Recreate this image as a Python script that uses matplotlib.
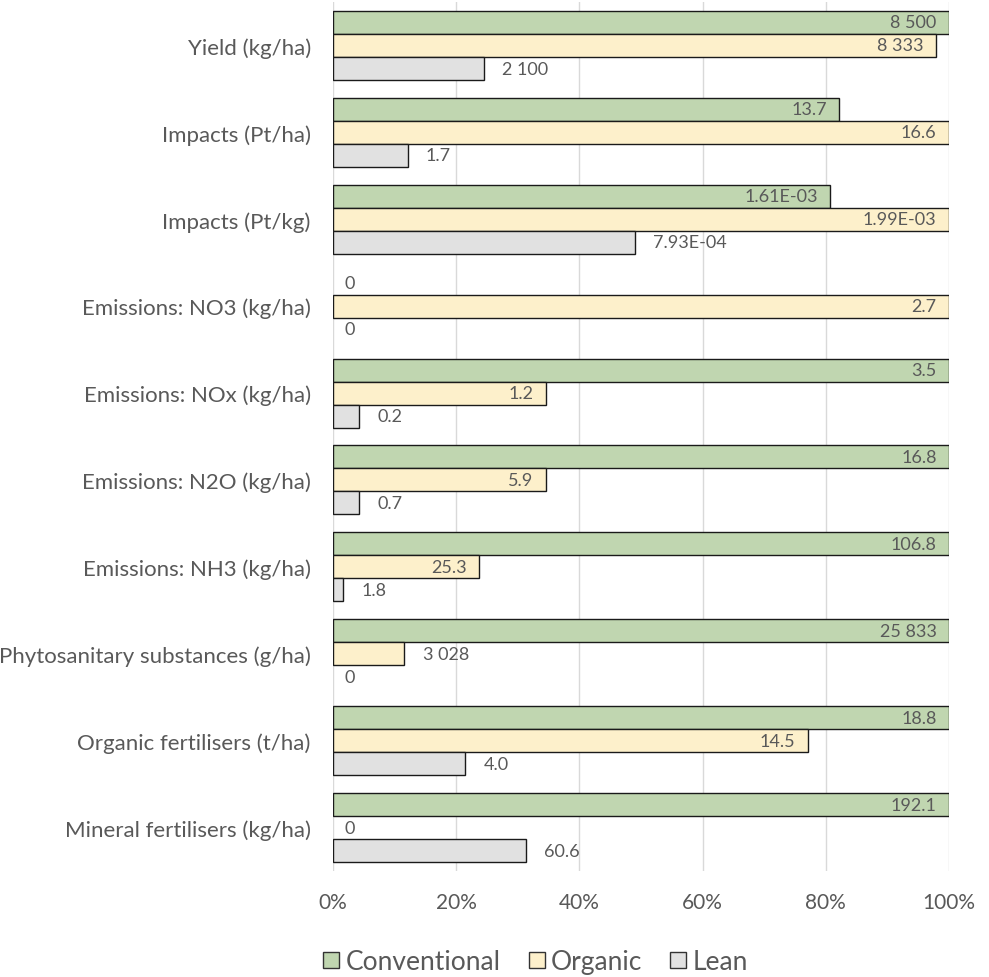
import numpy as np
import matplotlib
matplotlib.use("Agg")
import matplotlib.pyplot as plt
from matplotlib.lines import Line2D

plt.rcParams['font.family'] = ['Lato', 'DejaVu Sans']

categories = ['Yield (kg/ha)', 'Impacts (Pt/ha)', 'Impacts (Pt/kg)', 'Emissions: NO3 (kg/ha)',
              'Emissions: NOx (kg/ha)', 'Emissions: N2O (kg/ha)', 'Emissions: NH3 (kg/ha)',
              'Phytosanitary substances (g/ha)', 'Organic fertilisers (t/ha)', 'Mineral fertilisers (kg/ha)']

# bar lengths (share of the largest system, %)
conv_pct = [100, 82.2, 80.7, 0, 100, 100, 100, 100, 100, 100]
org_pct = [97.9, 100, 100, 100, 34.6, 34.6, 23.7, 11.6, 77.1, 0]
lean_pct = [24.5, 12.1, 49.0, 0, 4.3, 4.3, 1.7, 0, 21.5, 31.4]

# raw values shown as labels
conv_lbl = ['8 500', '13.7', '1.61E-03', '0', '3.5', '16.8', '106.8', '25 833', '18.8', '192.1']
org_lbl = ['8 333', '16.6', '1.99E-03', '2.7', '1.2', '5.9', '25.3', '3 028', '14.5', '0']
lean_lbl = ['2 100', '1.7', '7.93E-04', '0', '0.2', '0.7', '1.8', '0', '4.0', '60.6']

series = ['Conventional', 'Organic', 'Lean']
colors = ['#C0D6B0', '#FDF0CB', '#E1E1E1']
txt = '#595959'

fig = plt.figure(figsize=(9.89, 9.78), dpi=100)
ax = fig.add_axes([0.3367, 0.1084, 0.6229, 0.8885])

y = np.arange(len(categories))
h = 0.265
data = [(conv_pct, conv_lbl, -h), (org_pct, org_lbl, 0), (lean_pct, lean_lbl, h)]

for k, (pct, lbl, off) in enumerate(data):
    lw = [0 if v == 0 else 1.0 for v in pct]
    ax.barh(y + off, pct, height=h, color=colors[k], edgecolor='#1a1a1a', linewidth=lw,
            label=series[k], zorder=3)
    for i in range(len(categories)):
        v = pct[i]
        # lean always outside, tiny bars outside, the rest inside end
        if k == 2 or v < 20:
            dx = 8 if v == 0 else 13
            ax.annotate(lbl[i], (v, y[i] + off), xytext=(dx, 0), textcoords='offset points',
                        ha='left', va='center', color=txt, fontsize=13, zorder=4)
        else:
            ax.annotate(lbl[i], (v, y[i] + off), xytext=(-9, 0), textcoords='offset points',
                        ha='right', va='center', color=txt, fontsize=13, zorder=4)

ax.set_ylim(len(categories) - 0.5, -0.5)
ax.set_xlim(0, 100)
ax.set_yticks(y)
ax.set_yticklabels(categories)
ax.set_xticks([0, 20, 40, 60, 80, 100])
ax.set_xticklabels(['0%', '20%', '40%', '60%', '80%', '100%'])
ax.tick_params(axis='both', length=0, colors=txt)
ax.tick_params(axis='y', pad=16, labelsize=16)
ax.tick_params(axis='x', pad=15, labelsize=15)
ax.grid(axis='x', color='#D9D9D9', linewidth=1, zorder=0)
for s in ax.spines.values():
    s.set_visible(False)

handles = [Line2D([], [], marker='s', linestyle='none', markersize=11, markerfacecolor=c,
                  markeredgecolor='#333333', markeredgewidth=1) for c in colors]
fig.legend(handles, series, loc='center', bbox_to_anchor=(0.541, 0.016), ncol=3, frameon=False,
           fontsize=19, labelcolor=txt, handletextpad=0.2, columnspacing=1.0, handlelength=0.7)

fig.savefig('out.png', dpi=100)
